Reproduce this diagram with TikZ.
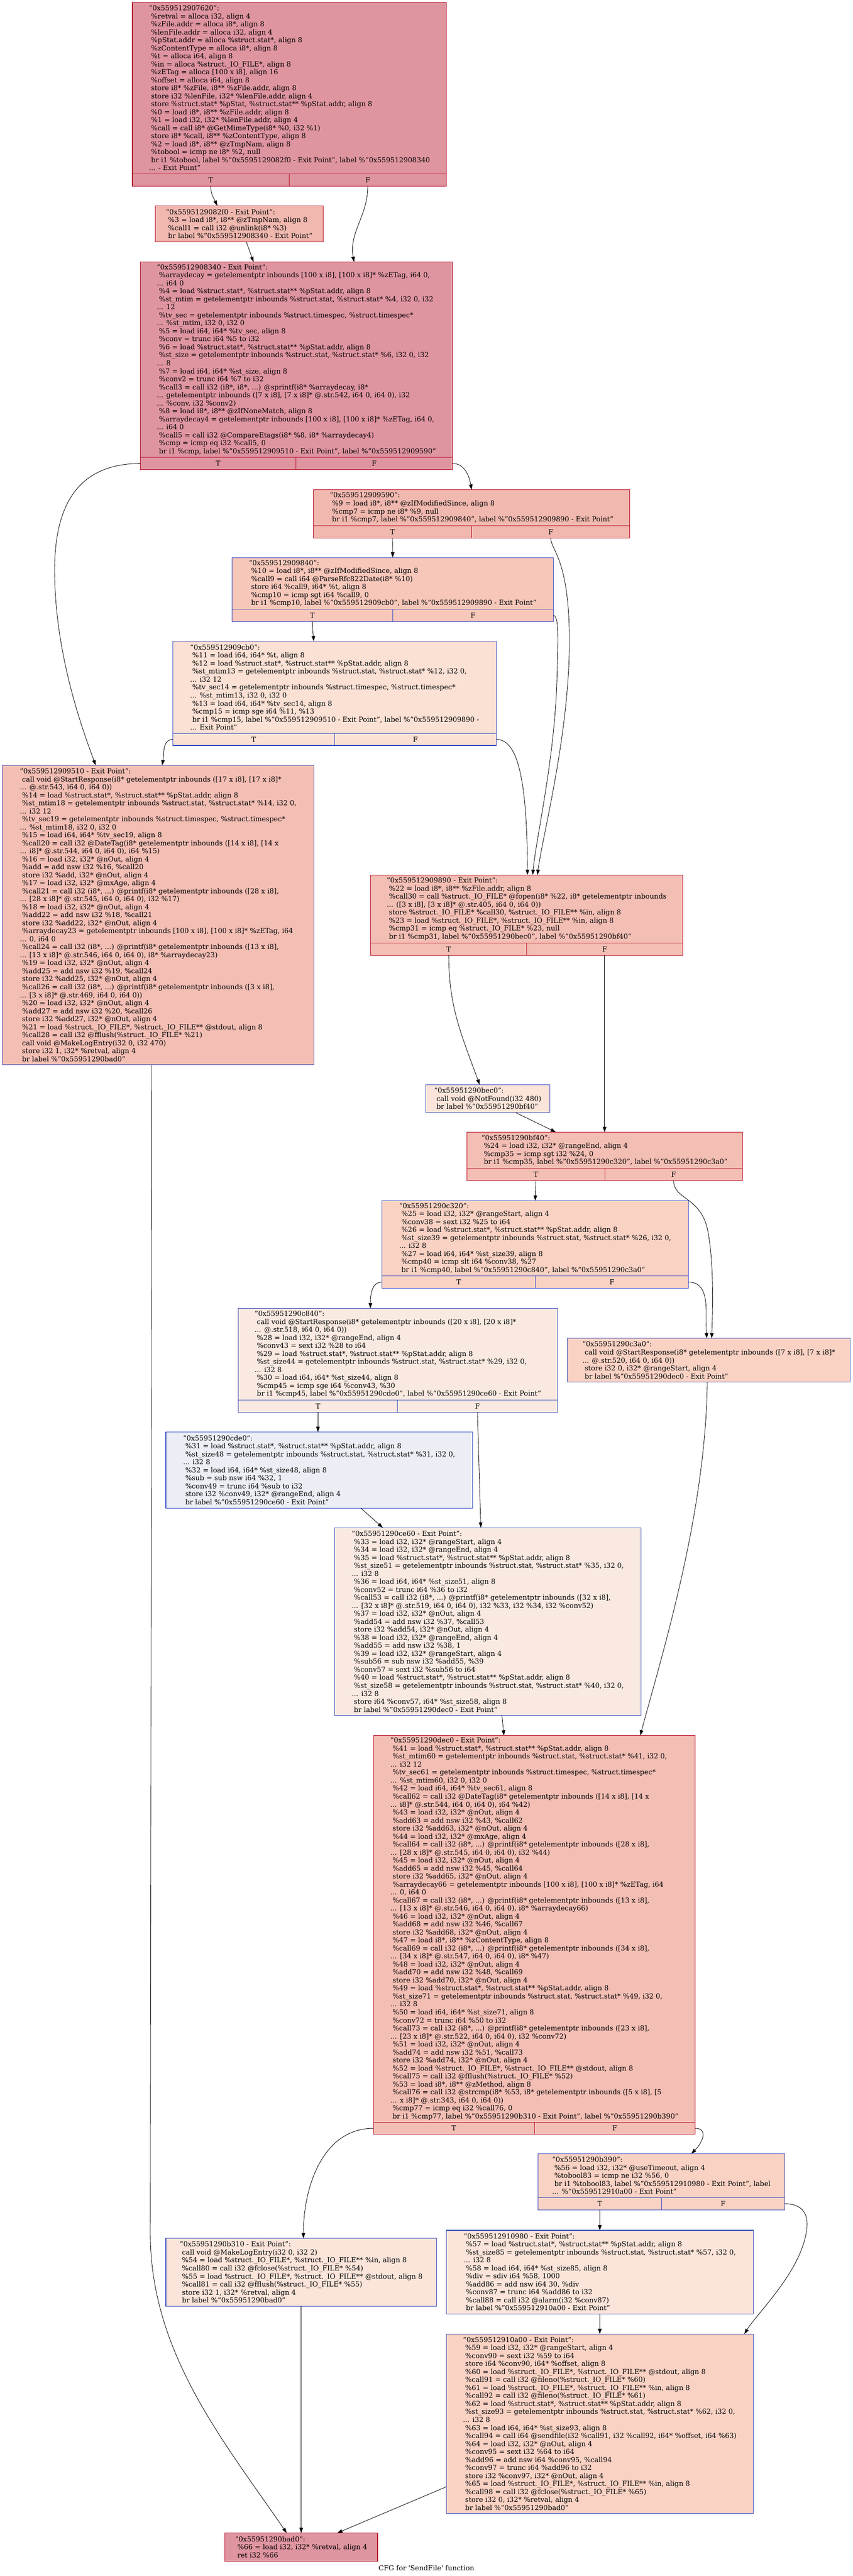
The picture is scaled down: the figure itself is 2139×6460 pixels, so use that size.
\documentclass[tikz,border=0pt]{standalone}
\usepackage{fontspec}
\setmainfont{DejaVu Serif}
\usetikzlibrary{arrows.meta}

\definecolor{hotred}{HTML}{B70D28}
\definecolor{coldblue}{HTML}{3D50C3}
\definecolor{heatA}{HTML}{DC5D4A}
\definecolor{heatB}{HTML}{EC7F63}
\definecolor{heatC}{HTML}{F7B99E}
\definecolor{heatD}{HTML}{E36C55}
\definecolor{heatE}{HTML}{F5C1A9}
\definecolor{heatF}{HTML}{F4987A}
\definecolor{heatG}{HTML}{F1CCB8}
\definecolor{heatH}{HTML}{D1DAE9}

\newcommand\cfgfont{\fontsize{17.3pt}{20.05pt}\selectfont}
\newcommand\ldsp{\hspace*{0.318em}}

\begin{document}
\begin{tikzpicture}[x=1pt, y=-1pt,
    blk/.style={draw, line width=1.4pt, align=left, inner sep=0pt, outer sep=0pt, anchor=north west, font=\cfgfont},
    tfcell/.style={draw, line width=1.4pt, inner sep=0pt, outer sep=0pt, anchor=north west, minimum height=30.5pt, font=\cfgfont},
    hot/.style={draw=hotred},
    cold/.style={draw=coldblue},
    edge/.style={line width=1.1pt, -{Triangle[length=13pt,width=9pt]}}]

    \useasboundingbox (0,0) rectangle (2139,6460);

    % Entry block
    \node[blk, hot, fill=hotred!44, minimum width=788pt, minimum height=430.5pt] (n7620) at (332,5.5) {"0x559512907620":\\
\ldsp\%retval = alloca i32, align 4\\
\ldsp\%zFile.addr = alloca i8*, align 8\\
\ldsp\%lenFile.addr = alloca i32, align 4\\
\ldsp\%pStat.addr = alloca \%struct.stat*, align 8\\
\ldsp\%zContentType = alloca i8*, align 8\\
\ldsp\%t = alloca i64, align 8\\
\ldsp\%in = alloca \%struct.\_IO\_FILE*, align 8\\
\ldsp\%zETag = alloca [100 x i8], align 16\\
\ldsp\%offset = alloca i64, align 8\\
\ldsp store i8* \%zFile, i8** \%zFile.addr, align 8\\
\ldsp store i32 \%lenFile, i32* \%lenFile.addr, align 4\\
\ldsp store \%struct.stat* \%pStat, \%struct.stat** \%pStat.addr, align 8\\
\ldsp\%0 = load i8*, i8** \%zFile.addr, align 8\\
\ldsp\%1 = load i32, i32* \%lenFile.addr, align 4\\
\ldsp\%call = call i8* @GetMimeType(i8* \%0, i32 \%1)\\
\ldsp store i8* \%call, i8** \%zContentType, align 8\\
\ldsp\%2 = load i8*, i8** @zTmpNam, align 8\\
\ldsp\%tobool = icmp ne i8* \%2, null\\
\ldsp br i1 \%tobool, label \%"0x5595129082f0 - Exit Point", label \%"0x559512908340\\
... - Exit Point"};
    \node[tfcell, hot, fill=hotred!44, minimum width=393pt] (n7620T) at (n7620.south west) {T};
    \node[tfcell, hot, fill=hotred!44, minimum width=395pt] (n7620F) at (n7620T.north east) {F};

    \node[blk, hot, fill=heatA!44, minimum width=422pt, minimum height=91pt] (n82f0) at (389,516) {"0x5595129082f0 - Exit Point":\\
\ldsp\%3 = load i8*, i8** @zTmpNam, align 8\\
\ldsp\%call1 = call i32 @unlink(i8* \%3)\\
\ldsp br label \%"0x559512908340 - Exit Point"};

    \node[blk, hot, fill=hotred!44, minimum width=783pt, minimum height=490pt] (n8340) at (352,657) {"0x559512908340 - Exit Point":\\
\ldsp\%arraydecay = getelementptr inbounds [100 x i8], [100 x i8]* \%zETag, i64 0,\\
... i64 0\\
\ldsp\%4 = load \%struct.stat*, \%struct.stat** \%pStat.addr, align 8\\
\ldsp\%st\_mtim = getelementptr inbounds \%struct.stat, \%struct.stat* \%4, i32 0, i32\\
... 12\\
\ldsp\%tv\_sec = getelementptr inbounds \%struct.timespec, \%struct.timespec*\\
... \%st\_mtim, i32 0, i32 0\\
\ldsp\%5 = load i64, i64* \%tv\_sec, align 8\\
\ldsp\%conv = trunc i64 \%5 to i32\\
\ldsp\%6 = load \%struct.stat*, \%struct.stat** \%pStat.addr, align 8\\
\ldsp\%st\_size = getelementptr inbounds \%struct.stat, \%struct.stat* \%6, i32 0, i32\\
... 8\\
\ldsp\%7 = load i64, i64* \%st\_size, align 8\\
\ldsp\%conv2 = trunc i64 \%7 to i32\\
\ldsp\%call3 = call i32 (i8*, i8*, ...) @sprintf(i8* \%arraydecay, i8*\\
... getelementptr inbounds ([7 x i8], [7 x i8]* @.str.542, i64 0, i64 0), i32\\
... \%conv, i32 \%conv2)\\
\ldsp\%8 = load i8*, i8** @zIfNoneMatch, align 8\\
\ldsp\%arraydecay4 = getelementptr inbounds [100 x i8], [100 x i8]* \%zETag, i64 0,\\
... i64 0\\
\ldsp\%call5 = call i32 @CompareEtags(i8* \%8, i8* \%arraydecay4)\\
\ldsp\%cmp = icmp eq i32 \%call5, 0\\
\ldsp br i1 \%cmp, label \%"0x559512909510 - Exit Point", label \%"0x559512909590"};
    \node[tfcell, hot, fill=hotred!44, minimum width=390pt] (n8340T) at (n8340.south west) {T};
    \node[tfcell, hot, fill=hotred!44, minimum width=393pt] (n8340F) at (n8340T.north east) {F};

    \node[blk, hot, fill=heatA!44, minimum width=794pt, minimum height=91pt] (n9590) at (786,1228) {"0x559512909590":\\
\ldsp\%9 = load i8*, i8** @zIfModifiedSince, align 8\\
\ldsp\%cmp7 = icmp ne i8* \%9, null\\
\ldsp br i1 \%cmp7, label \%"0x559512909840", label \%"0x559512909890 - Exit Point"};
    \node[tfcell, hot, fill=heatA!44, minimum width=397pt] (n9590T) at (n9590.south west) {T};
    \node[tfcell, hot, fill=heatA!44, minimum width=397pt] (n9590F) at (n9590T.north east) {F};

    \node[blk, cold, fill=heatB!44, minimum width=806pt, minimum height=130pt] (n9840) at (582,1398) {"0x559512909840":\\
\ldsp\%10 = load i8*, i8** @zIfModifiedSince, align 8\\
\ldsp\%call9 = call i64 @ParseRfc822Date(i8* \%10)\\
\ldsp store i64 \%call9, i64* \%t, align 8\\
\ldsp\%cmp10 = icmp sgt i64 \%call9, 0\\
\ldsp br i1 \%cmp10, label \%"0x559512909cb0", label \%"0x559512909890 - Exit Point"};
    \node[tfcell, cold, fill=heatB!44, minimum width=403pt] (n9840T) at (n9840.south west) {T};
    \node[tfcell, cold, fill=heatB!44, minimum width=403pt] (n9840F) at (n9840T.north east) {F};

    \node[blk, cold, fill=heatC!44, minimum width=811pt, minimum height=231pt] (n9cb0) at (434,1608) {"0x559512909cb0":\\
\ldsp\%11 = load i64, i64* \%t, align 8\\
\ldsp\%12 = load \%struct.stat*, \%struct.stat** \%pStat.addr, align 8\\
\ldsp\%st\_mtim13 = getelementptr inbounds \%struct.stat, \%struct.stat* \%12, i32 0,\\
... i32 12\\
\ldsp\%tv\_sec14 = getelementptr inbounds \%struct.timespec, \%struct.timespec*\\
... \%st\_mtim13, i32 0, i32 0\\
\ldsp\%13 = load i64, i64* \%tv\_sec14, align 8\\
\ldsp\%cmp15 = icmp sge i64 \%11, \%13\\
\ldsp br i1 \%cmp15, label \%"0x559512909510 - Exit Point", label \%"0x559512909890 -\\
... Exit Point"};
    \node[tfcell, cold, fill=heatC!44, minimum width=405pt] (n9cb0T) at (n9cb0.south west) {T};
    \node[tfcell, cold, fill=heatC!44, minimum width=406pt] (n9cb0F) at (n9cb0T.north east) {F};

    % Not modified branch
    \node[blk, cold, fill=heatD!44, minimum width=782.4pt, minimum height=751pt] (n9510) at (5.6,1919) {"0x559512909510 - Exit Point":\\
\ldsp call void @StartResponse(i8* getelementptr inbounds ([17 x i8], [17 x i8]*\\
... @.str.543, i64 0, i64 0))\\
\ldsp\%14 = load \%struct.stat*, \%struct.stat** \%pStat.addr, align 8\\
\ldsp\%st\_mtim18 = getelementptr inbounds \%struct.stat, \%struct.stat* \%14, i32 0,\\
... i32 12\\
\ldsp\%tv\_sec19 = getelementptr inbounds \%struct.timespec, \%struct.timespec*\\
... \%st\_mtim18, i32 0, i32 0\\
\ldsp\%15 = load i64, i64* \%tv\_sec19, align 8\\
\ldsp\%call20 = call i32 @DateTag(i8* getelementptr inbounds ([14 x i8], [14 x\\
... i8]* @.str.544, i64 0, i64 0), i64 \%15)\\
\ldsp\%16 = load i32, i32* @nOut, align 4\\
\ldsp\%add = add nsw i32 \%16, \%call20\\
\ldsp store i32 \%add, i32* @nOut, align 4\\
\ldsp\%17 = load i32, i32* @mxAge, align 4\\
\ldsp\%call21 = call i32 (i8*, ...) @printf(i8* getelementptr inbounds ([28 x i8],\\
... [28 x i8]* @.str.545, i64 0, i64 0), i32 \%17)\\
\ldsp\%18 = load i32, i32* @nOut, align 4\\
\ldsp\%add22 = add nsw i32 \%18, \%call21\\
\ldsp store i32 \%add22, i32* @nOut, align 4\\
\ldsp\%arraydecay23 = getelementptr inbounds [100 x i8], [100 x i8]* \%zETag, i64\\
... 0, i64 0\\
\ldsp\%call24 = call i32 (i8*, ...) @printf(i8* getelementptr inbounds ([13 x i8],\\
... [13 x i8]* @.str.546, i64 0, i64 0), i8* \%arraydecay23)\\
\ldsp\%19 = load i32, i32* @nOut, align 4\\
\ldsp\%add25 = add nsw i32 \%19, \%call24\\
\ldsp store i32 \%add25, i32* @nOut, align 4\\
\ldsp\%call26 = call i32 (i8*, ...) @printf(i8* getelementptr inbounds ([3 x i8],\\
... [3 x i8]* @.str.469, i64 0, i64 0))\\
\ldsp\%20 = load i32, i32* @nOut, align 4\\
\ldsp\%add27 = add nsw i32 \%20, \%call26\\
\ldsp store i32 \%add27, i32* @nOut, align 4\\
\ldsp\%21 = load \%struct.\_IO\_FILE*, \%struct.\_IO\_FILE** @stdout, align 8\\
\ldsp\%call28 = call i32 @fflush(\%struct.\_IO\_FILE* \%21)\\
\ldsp call void @MakeLogEntry(i32 0, i32 470)\\
\ldsp store i32 1, i32* \%retval, align 4\\
\ldsp br label \%"0x55951290bad0"};

    % Open the file
    \node[blk, hot, fill=heatD!44, minimum width=782pt, minimum height=171pt] (n9890) at (930,2194) {"0x559512909890 - Exit Point":\\
\ldsp\%22 = load i8*, i8** \%zFile.addr, align 8\\
\ldsp\%call30 = call \%struct.\_IO\_FILE* @fopen(i8* \%22, i8* getelementptr inbounds\\
... ([3 x i8], [3 x i8]* @.str.405, i64 0, i64 0))\\
\ldsp store \%struct.\_IO\_FILE* \%call30, \%struct.\_IO\_FILE** \%in, align 8\\
\ldsp\%23 = load \%struct.\_IO\_FILE*, \%struct.\_IO\_FILE** \%in, align 8\\
\ldsp\%cmp31 = icmp eq \%struct.\_IO\_FILE* \%23, null\\
\ldsp br i1 \%cmp31, label \%"0x55951290bec0", label \%"0x55951290bf40"};
    \node[tfcell, hot, fill=heatD!44, minimum width=391pt] (n9890T) at (n9890.south west) {T};
    \node[tfcell, hot, fill=heatD!44, minimum width=391pt] (n9890F) at (n9890T.north east) {F};

    \node[blk, cold, fill=heatE!44, minimum width=311pt, minimum height=70pt] (nbec0) at (1068,2720) {"0x55951290bec0":\\
\ldsp call void @NotFound(i32 480)\\
\ldsp br label \%"0x55951290bf40"};

    \node[blk, hot, fill=heatD!44, minimum width=691pt, minimum height=91pt] (nbf40) at (1171,2839) {"0x55951290bf40":\\
\ldsp\%24 = load i32, i32* @rangeEnd, align 4\\
\ldsp\%cmp35 = icmp sgt i32 \%24, 0\\
\ldsp br i1 \%cmp35, label \%"0x55951290c320", label \%"0x55951290c3a0"};
    \node[tfcell, hot, fill=heatD!44, minimum width=346pt] (nbf40T) at (nbf40.south west) {T};
    \node[tfcell, hot, fill=heatD!44, minimum width=345pt] (nbf40F) at (nbf40T.north east) {F};

    % Range request
    \node[blk, cold, fill=heatF!44, minimum width=769pt, minimum height=189pt] (nc320) at (958,3011) {"0x55951290c320":\\
\ldsp\%25 = load i32, i32* @rangeStart, align 4\\
\ldsp\%conv38 = sext i32 \%25 to i64\\
\ldsp\%26 = load \%struct.stat*, \%struct.stat** \%pStat.addr, align 8\\
\ldsp\%st\_size39 = getelementptr inbounds \%struct.stat, \%struct.stat* \%26, i32 0,\\
... i32 8\\
\ldsp\%27 = load i64, i64* \%st\_size39, align 8\\
\ldsp\%cmp40 = icmp slt i64 \%conv38, \%27\\
\ldsp br i1 \%cmp40, label \%"0x55951290c840", label \%"0x55951290c3a0"};
    \node[tfcell, cold, fill=heatF!44, minimum width=385pt] (nc320T) at (nc320.south west) {T};
    \node[tfcell, cold, fill=heatF!44, minimum width=384pt] (nc320F) at (nc320T.north east) {F};

    \node[blk, cold, fill=heatG!44, minimum width=800pt, minimum height=230pt] (nc840) at (598,3281) {"0x55951290c840":\\
\ldsp call void @StartResponse(i8* getelementptr inbounds ([20 x i8], [20 x i8]*\\
... @.str.518, i64 0, i64 0))\\
\ldsp\%28 = load i32, i32* @rangeEnd, align 4\\
\ldsp\%conv43 = sext i32 \%28 to i64\\
\ldsp\%29 = load \%struct.stat*, \%struct.stat** \%pStat.addr, align 8\\
\ldsp\%st\_size44 = getelementptr inbounds \%struct.stat, \%struct.stat* \%29, i32 0,\\
... i32 8\\
\ldsp\%30 = load i64, i64* \%st\_size44, align 8\\
\ldsp\%cmp45 = icmp sge i64 \%conv43, \%30\\
\ldsp br i1 \%cmp45, label \%"0x55951290cde0", label \%"0x55951290ce60 - Exit Point"};
    \node[tfcell, cold, fill=heatG!44, minimum width=399pt] (nc840T) at (nc840.south west) {T};
    \node[tfcell, cold, fill=heatG!44, minimum width=401pt] (nc840F) at (nc840T.north east) {F};

    \node[blk, cold, fill=heatF!44, minimum width=710pt, minimum height=110pt] (nc3a0) at (1423,3356) {"0x55951290c3a0":\\
\ldsp call void @StartResponse(i8* getelementptr inbounds ([7 x i8], [7 x i8]*\\
... @.str.520, i64 0, i64 0))\\
\ldsp store i32 0, i32* @rangeStart, align 4\\
\ldsp br label \%"0x55951290dec0 - Exit Point"};

    \node[blk, cold, fill=heatH!44, minimum width=769pt, minimum height=191pt] (ncde0) at (416,3591) {"0x55951290cde0":\\
\ldsp\%31 = load \%struct.stat*, \%struct.stat** \%pStat.addr, align 8\\
\ldsp\%st\_size48 = getelementptr inbounds \%struct.stat, \%struct.stat* \%31, i32 0,\\
... i32 8\\
\ldsp\%32 = load i64, i64* \%st\_size48, align 8\\
\ldsp\%sub = sub nsw i64 \%32, 1\\
\ldsp\%conv49 = trunc i64 \%sub to i32\\
\ldsp store i32 \%conv49, i32* @rangeEnd, align 4\\
\ldsp br label \%"0x55951290ce60 - Exit Point"};

    \node[blk, cold, fill=heatG!44, minimum width=769pt, minimum height=471pt] (nce60) at (839,3831) {"0x55951290ce60 - Exit Point":\\
\ldsp\%33 = load i32, i32* @rangeStart, align 4\\
\ldsp\%34 = load i32, i32* @rangeEnd, align 4\\
\ldsp\%35 = load \%struct.stat*, \%struct.stat** \%pStat.addr, align 8\\
\ldsp\%st\_size51 = getelementptr inbounds \%struct.stat, \%struct.stat* \%35, i32 0,\\
... i32 8\\
\ldsp\%36 = load i64, i64* \%st\_size51, align 8\\
\ldsp\%conv52 = trunc i64 \%36 to i32\\
\ldsp\%call53 = call i32 (i8*, ...) @printf(i8* getelementptr inbounds ([32 x i8],\\
... [32 x i8]* @.str.519, i64 0, i64 0), i32 \%33, i32 \%34, i32 \%conv52)\\
\ldsp\%37 = load i32, i32* @nOut, align 4\\
\ldsp\%add54 = add nsw i32 \%37, \%call53\\
\ldsp store i32 \%add54, i32* @nOut, align 4\\
\ldsp\%38 = load i32, i32* @rangeEnd, align 4\\
\ldsp\%add55 = add nsw i32 \%38, 1\\
\ldsp\%39 = load i32, i32* @rangeStart, align 4\\
\ldsp\%sub56 = sub nsw i32 \%add55, \%39\\
\ldsp\%conv57 = sext i32 \%sub56 to i64\\
\ldsp\%40 = load \%struct.stat*, \%struct.stat** \%pStat.addr, align 8\\
\ldsp\%st\_size58 = getelementptr inbounds \%struct.stat, \%struct.stat* \%40, i32 0,\\
... i32 8\\
\ldsp store i64 \%conv57, i64* \%st\_size58, align 8\\
\ldsp br label \%"0x55951290dec0 - Exit Point"};

    % Headers
    \node[blk, hot, fill=heatD!44, minimum width=807pt, minimum height=970pt] (ndec0) at (937,4352) {"0x55951290dec0 - Exit Point":\\
\ldsp\%41 = load \%struct.stat*, \%struct.stat** \%pStat.addr, align 8\\
\ldsp\%st\_mtim60 = getelementptr inbounds \%struct.stat, \%struct.stat* \%41, i32 0,\\
... i32 12\\
\ldsp\%tv\_sec61 = getelementptr inbounds \%struct.timespec, \%struct.timespec*\\
... \%st\_mtim60, i32 0, i32 0\\
\ldsp\%42 = load i64, i64* \%tv\_sec61, align 8\\
\ldsp\%call62 = call i32 @DateTag(i8* getelementptr inbounds ([14 x i8], [14 x\\
... i8]* @.str.544, i64 0, i64 0), i64 \%42)\\
\ldsp\%43 = load i32, i32* @nOut, align 4\\
\ldsp\%add63 = add nsw i32 \%43, \%call62\\
\ldsp store i32 \%add63, i32* @nOut, align 4\\
\ldsp\%44 = load i32, i32* @mxAge, align 4\\
\ldsp\%call64 = call i32 (i8*, ...) @printf(i8* getelementptr inbounds ([28 x i8],\\
... [28 x i8]* @.str.545, i64 0, i64 0), i32 \%44)\\
\ldsp\%45 = load i32, i32* @nOut, align 4\\
\ldsp\%add65 = add nsw i32 \%45, \%call64\\
\ldsp store i32 \%add65, i32* @nOut, align 4\\
\ldsp\%arraydecay66 = getelementptr inbounds [100 x i8], [100 x i8]* \%zETag, i64\\
... 0, i64 0\\
\ldsp\%call67 = call i32 (i8*, ...) @printf(i8* getelementptr inbounds ([13 x i8],\\
... [13 x i8]* @.str.546, i64 0, i64 0), i8* \%arraydecay66)\\
\ldsp\%46 = load i32, i32* @nOut, align 4\\
\ldsp\%add68 = add nsw i32 \%46, \%call67\\
\ldsp store i32 \%add68, i32* @nOut, align 4\\
\ldsp\%47 = load i8*, i8** \%zContentType, align 8\\
\ldsp\%call69 = call i32 (i8*, ...) @printf(i8* getelementptr inbounds ([34 x i8],\\
... [34 x i8]* @.str.547, i64 0, i64 0), i8* \%47)\\
\ldsp\%48 = load i32, i32* @nOut, align 4\\
\ldsp\%add70 = add nsw i32 \%48, \%call69\\
\ldsp store i32 \%add70, i32* @nOut, align 4\\
\ldsp\%49 = load \%struct.stat*, \%struct.stat** \%pStat.addr, align 8\\
\ldsp\%st\_size71 = getelementptr inbounds \%struct.stat, \%struct.stat* \%49, i32 0,\\
... i32 8\\
\ldsp\%50 = load i64, i64* \%st\_size71, align 8\\
\ldsp\%conv72 = trunc i64 \%50 to i32\\
\ldsp\%call73 = call i32 (i8*, ...) @printf(i8* getelementptr inbounds ([23 x i8],\\
... [23 x i8]* @.str.522, i64 0, i64 0), i32 \%conv72)\\
\ldsp\%51 = load i32, i32* @nOut, align 4\\
\ldsp\%add74 = add nsw i32 \%51, \%call73\\
\ldsp store i32 \%add74, i32* @nOut, align 4\\
\ldsp\%52 = load \%struct.\_IO\_FILE*, \%struct.\_IO\_FILE** @stdout, align 8\\
\ldsp\%call75 = call i32 @fflush(\%struct.\_IO\_FILE* \%52)\\
\ldsp\%53 = load i8*, i8** @zMethod, align 8\\
\ldsp\%call76 = call i32 @strcmp(i8* \%53, i8* getelementptr inbounds ([5 x i8], [5\\
... x i8]* @.str.343, i64 0, i64 0))\\
\ldsp\%cmp77 = icmp eq i32 \%call76, 0\\
\ldsp br i1 \%cmp77, label \%"0x55951290b310 - Exit Point", label \%"0x55951290b390"};
    \node[tfcell, hot, fill=heatD!44, minimum width=403pt] (ndec0T) at (ndec0.south west) {T};
    \node[tfcell, hot, fill=heatD!44, minimum width=404pt] (ndec0F) at (ndec0T.north east) {F};

    \node[blk, cold, fill=heatF!44, minimum width=618pt, minimum height=110pt] (nb390) at (1350,5401) {"0x55951290b390":\\
\ldsp\%56 = load i32, i32* @useTimeout, align 4\\
\ldsp\%tobool83 = icmp ne i32 \%56, 0\\
\ldsp br i1 \%tobool83, label \%"0x559512910980 - Exit Point", label\\
... \%"0x559512910a00 - Exit Point"};
    \node[tfcell, cold, fill=heatF!44, minimum width=309pt] (nb390T) at (nb390.south west) {T};
    \node[tfcell, cold, fill=heatF!44, minimum width=309pt] (nb390F) at (nb390T.north east) {F};

    \node[blk, cold, fill=heatE!44, minimum width=679pt, minimum height=170pt] (nb310) at (416,5613) {"0x55951290b310 - Exit Point":\\
\ldsp call void @MakeLogEntry(i32 0, i32 2)\\
\ldsp\%54 = load \%struct.\_IO\_FILE*, \%struct.\_IO\_FILE** \%in, align 8\\
\ldsp\%call80 = call i32 @fclose(\%struct.\_IO\_FILE* \%54)\\
\ldsp\%55 = load \%struct.\_IO\_FILE*, \%struct.\_IO\_FILE** @stdout, align 8\\
\ldsp\%call81 = call i32 @fflush(\%struct.\_IO\_FILE* \%55)\\
\ldsp store i32 1, i32* \%retval, align 4\\
\ldsp br label \%"0x55951290bad0"};

    \node[blk, cold, fill=heatE!44, minimum width=769pt, minimum height=210pt] (n10980) at (1120,5593) {"0x559512910980 - Exit Point":\\
\ldsp\%57 = load \%struct.stat*, \%struct.stat** \%pStat.addr, align 8\\
\ldsp\%st\_size85 = getelementptr inbounds \%struct.stat, \%struct.stat* \%57, i32 0,\\
... i32 8\\
\ldsp\%58 = load i64, i64* \%st\_size85, align 8\\
\ldsp\%div = sdiv i64 \%58, 1000\\
\ldsp\%add86 = add nsw i64 30, \%div\\
\ldsp\%conv87 = trunc i64 \%add86 to i32\\
\ldsp\%call88 = call i32 @alarm(i32 \%conv87)\\
\ldsp br label \%"0x559512910a00 - Exit Point"};

    \node[blk, cold, fill=heatF!44, minimum width=769pt, minimum height=450pt] (n10a00) at (1120,5853) {"0x559512910a00 - Exit Point":\\
\ldsp\%59 = load i32, i32* @rangeStart, align 4\\
\ldsp\%conv90 = sext i32 \%59 to i64\\
\ldsp store i64 \%conv90, i64* \%offset, align 8\\
\ldsp\%60 = load \%struct.\_IO\_FILE*, \%struct.\_IO\_FILE** @stdout, align 8\\
\ldsp\%call91 = call i32 @fileno(\%struct.\_IO\_FILE* \%60)\\
\ldsp\%61 = load \%struct.\_IO\_FILE*, \%struct.\_IO\_FILE** \%in, align 8\\
\ldsp\%call92 = call i32 @fileno(\%struct.\_IO\_FILE* \%61)\\
\ldsp\%62 = load \%struct.stat*, \%struct.stat** \%pStat.addr, align 8\\
\ldsp\%st\_size93 = getelementptr inbounds \%struct.stat, \%struct.stat* \%62, i32 0,\\
... i32 8\\
\ldsp\%63 = load i64, i64* \%st\_size93, align 8\\
\ldsp\%call94 = call i64 @sendfile(i32 \%call91, i32 \%call92, i64* \%offset, i64 \%63)\\
\ldsp\%64 = load i32, i32* @nOut, align 4\\
\ldsp\%conv95 = sext i32 \%64 to i64\\
\ldsp\%add96 = add nsw i64 \%conv95, \%call94\\
\ldsp\%conv97 = trunc i64 \%add96 to i32\\
\ldsp store i32 \%conv97, i32* @nOut, align 4\\
\ldsp\%65 = load \%struct.\_IO\_FILE*, \%struct.\_IO\_FILE** \%in, align 8\\
\ldsp\%call98 = call i32 @fclose(\%struct.\_IO\_FILE* \%65)\\
\ldsp store i32 0, i32* \%retval, align 4\\
\ldsp br label \%"0x55951290bad0"};

    % Return block
    \node[blk, hot, fill=hotred!44, minimum width=383pt, minimum height=71pt] (nbad0) at (564,6352) {"0x55951290bad0":\\
\ldsp\%66 = load i32, i32* \%retval, align 4\\
\ldsp ret i32 \%66};

    \node[font=\cfgfont] (caption) at (1069.5,6440) {CFG for \textquotesingle SendFile\textquotesingle\ function};

    % Edges
    \draw[edge] (n7620T.south) to[out=-90,in=115] ([xshift=-55pt]n82f0.north);
    \draw[edge] (n7620F.south) to[out=-90,in=100] ([xshift=144.5pt]n8340.north);
    \draw[edge] ([xshift=18pt]n82f0.south) -- ([xshift=-107.5pt]n8340.north);
    \draw[edge] (n8340T.west) .. controls (200,1163) and (137,1260) .. (137,1430) .. controls (137,1650) and (215,1850) .. ([xshift=-157pt]n9510.north);
    \draw[edge] (n8340F.east) to[out=0,in=100] (n9590.north);
    \draw[edge] (n9590T.south) -- (n9840.north);
    \draw[edge] (n9590F.south) .. controls (1381,1380) and (1430,1400) .. (1428,1620) .. controls (1426,1850) and (1360,2100) .. ([xshift=27pt]n9890.north);
    \draw[edge] (n9840T.south) to[out=-90,in=95] ([xshift=-52.5pt]n9cb0.north);
    \draw[edge] (n9840F.east) .. controls (1402,1544) and (1400,1600) .. (1397,1700) .. controls (1392,1900) and (1345,2100) .. ([xshift=15pt]n9890.north);
    \draw[edge] (n9cb0T.west) to[out=180,in=80] ([xshift=10pt]n9510.north);
    \draw[edge] (n9cb0F.east) .. controls (1300,1854) and (1322,1960) .. ([xshift=2pt]n9890.north);
    \draw[edge] ([xshift=-16pt]n9510.south) -- (377,5600) .. controls (377,5900) and (560,6120) .. ([xshift=-36.5pt]nbad0.north);
    \draw[edge] (n9890T.south) to[out=-90,in=110] ([xshift=-20.5pt]nbec0.north);
    \draw[edge] (n9890F.south) -- (nbf40.north);
    \draw[edge] ([xshift=69.5pt]nbec0.south) -- ([xshift=-122.5pt]nbf40.north);
    \draw[edge] (nbf40T.south) -- (nc320.north);
    \draw[edge] (nbf40F.south) .. controls (1690,3010) and (1760,3000) .. (1776,3090) .. controls (1792,3180) and (1787,3300) .. ([xshift=7pt]nc3a0.north);
    \draw[edge] (nc320T.west) to[out=180,in=90] ([xshift=-69pt]nc840.north);
    \draw[edge] (nc320F.east) to[out=0,in=95] ([xshift=-5pt]nc3a0.north);
    \draw[edge] (nc840T.south) -- ([xshift=-3pt]ncde0.north);
    \draw[edge] (nc840F.south) -- ([xshift=-17.5pt]nce60.north);
    \draw[edge] ([xshift=104.5pt]ncde0.south) -- ([xshift=-263.5pt]nce60.north);
    \draw[edge] ([xshift=35.5pt]nce60.south) -- ([xshift=-76.5pt]ndec0.north);
    \draw[edge] ([xshift=-4pt]nc3a0.south) .. controls (1770,3800) and (1660,4150) .. ([xshift=265.5pt]ndec0.north);
    \draw[edge] (ndec0T.west) to[out=180,in=90] ([xshift=5.5pt]nb310.north);
    \draw[edge] (ndec0F.east) .. controls (1775,5337) and (1765,5370) .. ([xshift=75pt]nb390.north);
    \draw[edge] (nb390T.south) -- (n10980.north);
    \draw[edge] (nb390F.east) .. controls (2020,5527) and (2030,5560) .. (2022,5600) .. controls (2005,5700) and (1900,5800) .. ([xshift=362.5pt]n10a00.north);
    \draw[edge] (n10980.south) -- (n10a00.north);
    \draw[edge] (nb310.south) -- (nbad0.north);
    \draw[edge] ([yshift=-158pt]n10a00.west) -- ([xshift=90.5pt]nbad0.north);

\end{tikzpicture}
\end{document}
